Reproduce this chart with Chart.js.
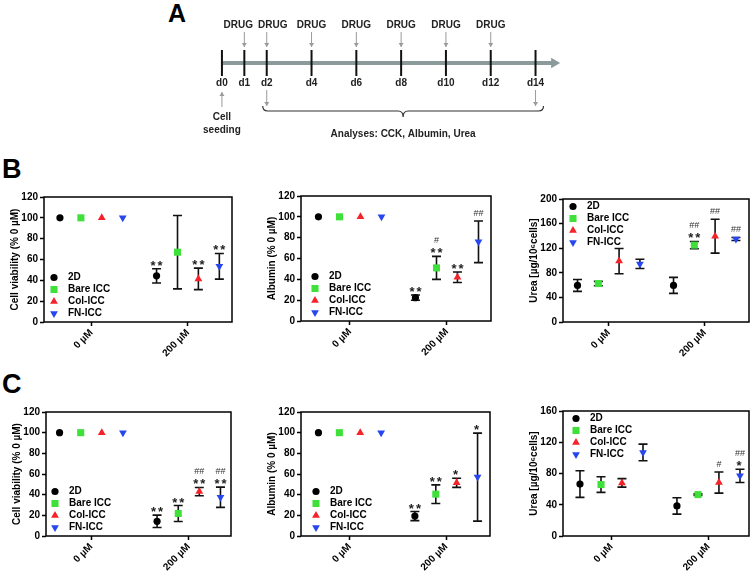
<!DOCTYPE html>
<html><head><meta charset="utf-8">
<script src="https://cdn.jsdelivr.net/npm/chart.js@4/dist/chart.umd.min.js"></script>
<style>
html,body{margin:0;padding:0;background:#fff;}
body{width:756px;height:577px;position:relative;overflow:hidden;font-family:"Liberation Sans",Arial,sans-serif;}
canvas{position:absolute;}
.letter{position:absolute;font-weight:bold;font-size:27px;color:#000;line-height:1;}
</style></head><body>
<div class="letter" style="left:168px;top:1px;font-size:25px">A</div>
<div class="letter" style="left:2px;top:156px">B</div>
<div class="letter" style="left:2px;top:371px">C</div>
<script>
// ---------- DATA ----------
const groups = ['2D', 'Bare ICC', 'Col-ICC', 'FN-ICC'];
const doses = ['0 µM', '200 µM'];

// Panel A timeline
const tlDays = [0, 1, 2, 4, 6, 8, 10, 12, 14];
const drugDays = [1, 2, 4, 6, 8, 10, 12];
const seedDay = 0;
const analysisDays = [2, 14];
const analysisText = 'Analyses: CCK, Albumin, Urea';

// Panel B (mean per group, [0 µM, 200 µM]; sd; significance at 200 µM)
const viabB_mean = [[100, 44.3], [100, 67], [100, 41.4], [100, 53.5]];
const viabB_sd   = [[0, 6.8], [0, 35.2], [0, 10.3], [0, 12.3]];
const viabB_star = ['**', '', '**', '**'];
const viabB_hash = ['', '', '', ''];

const albB_mean = [[100, 22.4], [100, 51], [100, 42], [100, 76]];
const albB_sd   = [[0, 2.5], [0, 11], [0, 5], [0, 20]];
const albB_star = ['**', '**', '**', ''];
const albB_hash = ['', '#', '', '##'];

const ureaB_mean = [[59.5, 59.5], [62.5, 125], [99, 139.5], [94.5, 135]];
const ureaB_sd   = [[9.7, 13], [3.5, 6], [20.5, 27.5], [7.5, 2.5]];
const ureaB_star = ['', '**', '', ''];
const ureaB_hash = ['', '##', '##', '##'];

// Panel C
const viabC_mean = [[100, 14.2], [100, 21.8], [100, 43], [100, 37.5]];
const viabC_sd   = [[0, 6], [0, 7.7], [0, 4], [0, 9.8]];
const viabC_star = ['**', '**', '**', '**'];
const viabC_hash = ['', '', '##', '##'];

const albC_mean = [[100, 19.3], [100, 40.5], [100, 51.5], [100, 57]];
const albC_sd   = [[0, 4.4], [0, 9], [0, 4.4], [0, 42.6]];
const albC_star = ['**', '**', '*', '*'];
const albC_hash = ['', '', '', ''];

const ureaC_mean = [[66.5, 38.5], [65.9, 53], [68, 68.4], [107, 77]];
const ureaC_sd   = [[17, 10.5], [10, 1], [5.5, 13.5], [10.6, 8.5]];
const ureaC_star = ['', '', '', '*'];
const ureaC_hash = ['', '', '#', '##'];

// ---------- STYLE ----------
const FONT = '"Liberation Sans", Arial, sans-serif';
Chart.defaults.font.family = FONT;
Chart.defaults.color = '#000';
const markerStyle = ['circle', 'rect', 'triangle', 'triangle'];
const markerRot = [0, 0, 0, 180];
const markerRad = [3.6, 5, 4.5, 4.5];
const markerColor = ['#000000', '#3fe03a', '#f5222a', '#2746ee'];
const dodge = [-0.325, -0.108, 0.108, 0.325];

function drawMarker(ctx, gi, x, y) {
  ctx.fillStyle = markerColor[gi];
  ctx.strokeStyle = markerColor[gi];
  if (Chart.helpers && Chart.helpers.drawPoint) {
    Chart.helpers.drawPoint(ctx, {pointStyle: markerStyle[gi], rotation: markerRot[gi], radius: markerRad[gi], borderWidth: 0}, x, y);
  }
}

const errPlugin = {
  id: 'errs',
  beforeDatasetsDraw(chart) {
    const ctx = chart.ctx, a = chart.chartArea, ys = chart.scales.y;
    ctx.save();
    ctx.strokeStyle = '#000'; ctx.lineWidth = 1.5;
    ctx.strokeRect(a.left, a.top, a.right - a.left, a.bottom - a.top);
    ctx.strokeStyle = '#111'; ctx.lineWidth = 1.6;
    chart.data.datasets.forEach((ds, di) => {
      chart.getDatasetMeta(di).data.forEach((el, i) => {
        const sd = ds.errs[i]; if (!sd) return;
        const m = ds.data[i].y;
        const yt = ys.getPixelForValue(m + sd), yb = ys.getPixelForValue(m - sd);
        ctx.beginPath();
        ctx.moveTo(el.x, yt); ctx.lineTo(el.x, yb);
        ctx.moveTo(el.x - 4.5, yt); ctx.lineTo(el.x + 4.5, yt);
        ctx.moveTo(el.x - 4.5, yb); ctx.lineTo(el.x + 4.5, yb);
        ctx.stroke();
      });
    });
    ctx.restore();
  },
  afterDatasetsDraw(chart, args, opts) {
    const ctx = chart.ctx, a = chart.chartArea, ys = chart.scales.y;
    ctx.save();
    ctx.textAlign = 'center';
    ctx.textBaseline = 'alphabetic';
    chart.data.datasets.forEach((ds, di) => {
      const el = chart.getDatasetMeta(di).data[1];
      const m = ds.data[1].y, sd = ds.errs[1] || 0;
      const top = ys.getPixelForValue(m + sd) - (sd ? 0 : 3);
      if (ds.star) {
        ctx.font = 'bold 13px ' + FONT; ctx.fillStyle = '#222';
        try { ctx.letterSpacing = '2px'; } catch (e) {}
        ctx.fillText(ds.star, el.x + (ds.star.length > 1 ? 1 : 0), top + 1);
        try { ctx.letterSpacing = '0px'; } catch (e) {}
      }
      if (ds.hash) {
        ctx.font = '9px ' + FONT; ctx.fillStyle = '#333';
        ctx.fillText(ds.hash, el.x, ds.star ? top - 13 : top - 5);
      }
    });
    // inset legend
    const mx = a.left + opts.legX;
    const rowH = 12;
    const y0 = opts.legend === 'top' ? a.top + 7.5 : a.bottom - 8.5 - 3 * rowH;
    groups.forEach((g, gi) => {
      const y = y0 + gi * rowH;
      drawMarker(ctx, gi, mx, y);
      ctx.fillStyle = '#000'; ctx.font = 'bold 10px ' + FONT;
      ctx.textBaseline = 'middle'; ctx.textAlign = 'left';
      ctx.fillText(g, mx + 14, y);
    });
    ctx.restore();
  }
};

const panels = [
  {plot: [44, 197, 232, 322], xr: [-0.49, 1.456], y: [0, 120, 20], title: 'Cell viability (% 0 µM)', mean: viabB_mean, sd: viabB_sd, star: viabB_star, hash: viabB_hash, leg: 'bottom', legX: 10},
  {plot: [301, 196, 491, 321], xr: [-0.505, 1.454], y: [0, 120, 20], title: 'Albumin (% 0 µM)', mean: albB_mean, sd: albB_sd, star: albB_star, hash: albB_hash, leg: 'bottom', legX: 14},
  {plot: [563, 199, 749, 322], xr: [-0.476, 1.461], y: [0, 200, 40], title: 'Urea [µg/10⁶cells]', mean: ureaB_mean, sd: ureaB_sd, star: ureaB_star, hash: ureaB_hash, leg: 'top', legX: 10},
  {plot: [46, 412, 231, 536], xr: [-0.464, 1.433], y: [0, 120, 20], title: 'Cell viability (% 0 µM)', mean: viabC_mean, sd: viabC_sd, star: viabC_star, hash: viabC_hash, leg: 'bottom', legX: 9},
  {plot: [301, 412, 490, 536], xr: [-0.506, 1.454], y: [0, 120, 20], title: 'Albumin (% 0 µM)', mean: albC_mean, sd: albC_sd, star: albC_star, hash: albC_hash, leg: 'bottom', legX: 15},
  {plot: [563, 411, 749, 536], xr: [-0.5, 1.418], y: [0, 160, 40], title: 'Urea [µg/10⁶cells]', mean: ureaC_mean, sd: ureaC_sd, star: ureaC_star, hash: ureaC_hash, leg: 'top', legX: 13}
];

function buildChart(p) {
  const [L, T, R, B] = p.plot;
  const PADL = 50, PADT = 20, PADR = 8, PADB = 50;
  const cv = document.createElement('canvas');
  const w = (R - L) + PADL + PADR, h = (B - T) + PADT + PADB;
  cv.width = w; cv.height = h;
  cv.style.left = (L - PADL) + 'px'; cv.style.top = (T - PADT) + 'px';
  cv.style.width = w + 'px'; cv.style.height = h + 'px';
  document.body.appendChild(cv);
  const datasets = groups.map((g, gi) => ({
    label: g,
    data: p.mean[gi].map((v, di) => ({x: di + dodge[gi], y: v})),
    errs: p.sd[gi], star: p.star[gi], hash: p.hash[gi],
    showLine: false,
    pointStyle: markerStyle[gi], pointRotation: markerRot[gi],
    pointRadius: markerRad[gi], pointHoverRadius: markerRad[gi],
    pointBackgroundColor: markerColor[gi], pointBorderColor: markerColor[gi], pointBorderWidth: 0
  }));
  const gridOpts = {drawOnChartArea: false, drawTicks: true, tickLength: 4, tickWidth: 1.5, tickColor: '#000'};
  new Chart(cv, {
    type: 'scatter',
    data: {datasets},
    options: {
      responsive: false, animation: false, devicePixelRatio: 1, events: [],
      layout: {padding: {left: 0, top: PADT, right: PADR, bottom: 0}},
      plugins: {legend: {display: false}, tooltip: {enabled: false}, errs: {legend: p.leg, legX: p.legX}},
      scales: {
        x: {
          type: 'linear', min: p.xr[0], max: p.xr[1],
          afterBuildTicks: s => { s.ticks = doses.map((d, i) => ({value: i})); },
          afterFit: s => { s.height = PADB; },
          ticks: {autoSkip: false, minRotation: 45, maxRotation: 45, padding: 1, color: '#000',
                  font: {size: 10, weight: 'bold'}, callback: v => doses[v]},
          grid: gridOpts, border: {display: false}
        },
        y: {
          min: p.y[0], max: p.y[1],
          afterFit: s => { s.width = PADL; },
          ticks: {stepSize: p.y[2], padding: 2, color: '#000', font: {size: 10, weight: 'bold'}},
          grid: gridOpts, border: {display: false},
          title: {display: true, text: p.title, color: '#000', font: {size: 10, weight: 'bold'}, padding: {top: 15, bottom: 0}}
        }
      }
    },
    plugins: [errPlugin]
  });
}
panels.forEach(buildChart);

// ---------- TIMELINE (panel A) ----------
function arrow(ctx, x1, y1, x2, y2) {
  ctx.beginPath(); ctx.moveTo(x1, y1); ctx.lineTo(x2, y2); ctx.stroke();
  const dir = Math.sign(y2 - y1);
  ctx.beginPath();
  ctx.moveTo(x2, y2); ctx.lineTo(x2 - 2.5, y2 - dir * 4); ctx.lineTo(x2 + 2.5, y2 - dir * 4); ctx.closePath();
  ctx.fill();
}
const tlPlugin = {
  id: 'tltext',
  afterDatasetsDraw(chart) {
    const ctx = chart.ctx, xs = chart.scales.x, ys = chart.scales.y;
    const y0 = ys.getPixelForValue(0);
    ctx.save();
    ctx.font = 'bold 10px ' + FONT; ctx.textAlign = 'center'; ctx.textBaseline = 'middle';
    ctx.fillStyle = '#222';
    tlDays.forEach(d => ctx.fillText('d' + d, xs.getPixelForValue(d), y0 + 20));
    ctx.strokeStyle = '#9a9a9a'; ctx.lineWidth = 1;
    drugDays.forEach((d, i) => {
      const x = xs.getPixelForValue(d);
      let nudge = 0;
      if (i < drugDays.length - 1 && drugDays[i + 1] - d < 1.5) nudge -= 6;
      if (i > 0 && d - drugDays[i - 1] < 1.5) nudge += 6;
      ctx.fillStyle = '#222';
      ctx.fillText('DRUG', x + nudge, y0 - 38);
      ctx.fillStyle = '#9a9a9a';
      arrow(ctx, x, y0 - 31, x, y0 - 16);
    });
    const xs0 = xs.getPixelForValue(seedDay);
    ctx.fillStyle = '#9a9a9a';
    arrow(ctx, xs0, y0 + 44, xs0, y0 + 29);
    ctx.fillStyle = '#222';
    ctx.fillText('Cell', xs0, y0 + 54);
    ctx.fillText('seeding', xs0, y0 + 67);
    const xa = xs.getPixelForValue(analysisDays[0]), xb = xs.getPixelForValue(analysisDays[1]);
    ctx.fillStyle = '#9a9a9a';
    arrow(ctx, xa, y0 + 27, xa, y0 + 43);
    arrow(ctx, xb, y0 + 27, xb, y0 + 43);
    // brace
    const l = xa - 4, r = xb + 8, mid = (l + r) / 2, top = y0 + 43, ln = y0 + 48, cusp = y0 + 54;
    ctx.strokeStyle = '#333'; ctx.lineWidth = 1.2;
    ctx.beginPath();
    ctx.moveTo(l, top); ctx.quadraticCurveTo(l, ln, l + 5, ln);
    ctx.lineTo(mid - 5, ln); ctx.quadraticCurveTo(mid, ln, mid, cusp);
    ctx.quadraticCurveTo(mid, ln, mid + 5, ln);
    ctx.lineTo(r - 5, ln); ctx.quadraticCurveTo(r, ln, r, top);
    ctx.stroke();
    ctx.fillStyle = '#222';
    ctx.fillText(analysisText, mid, y0 + 71);
    ctx.restore();
  }
};
(function () {
  const cv = document.createElement('canvas');
  const W = 450, H = 170;
  cv.width = W; cv.height = H;
  cv.style.left = '150px'; cv.style.top = (63 - H / 2) + 'px';
  cv.style.width = W + 'px'; cv.style.height = H + 'px';
  document.body.appendChild(cv);
  const pxPerDay = 24, d0px = 211 - 150;
  const xmin = -d0px / pxPerDay, xmax = xmin + W / pxPerDay;
  const lineEnd = tlDays[tlDays.length - 1] + 0.83;
  new Chart(cv, {
    type: 'scatter',
    data: {datasets: [
      {data: tlDays.map(d => ({x: d, y: 0})), showLine: false, pointStyle: 'line', pointRotation: 90,
       pointRadius: 13, pointHoverRadius: 13, pointBorderWidth: 2, pointBorderColor: '#111', pointBackgroundColor: '#111'},
      {data: [{x: tlDays[0], y: 0}, {x: lineEnd, y: 0}], showLine: true, fill: false,
       borderColor: '#8b9a9a', borderWidth: 4, pointRadius: [0, 6], pointHoverRadius: [0, 6],
       pointStyle: 'triangle', pointRotation: 90, pointBackgroundColor: '#8b9a9a', pointBorderWidth: 0}
    ]},
    options: {
      responsive: false, animation: false, devicePixelRatio: 1, events: [],
      layout: {padding: 0},
      plugins: {legend: {display: false}, tooltip: {enabled: false}},
      scales: {
        x: {type: 'linear', display: false, min: xmin, max: xmax},
        y: {type: 'linear', display: false, min: -1, max: 1}
      }
    },
    plugins: [tlPlugin]
  });
})();
</script>
</body></html>
